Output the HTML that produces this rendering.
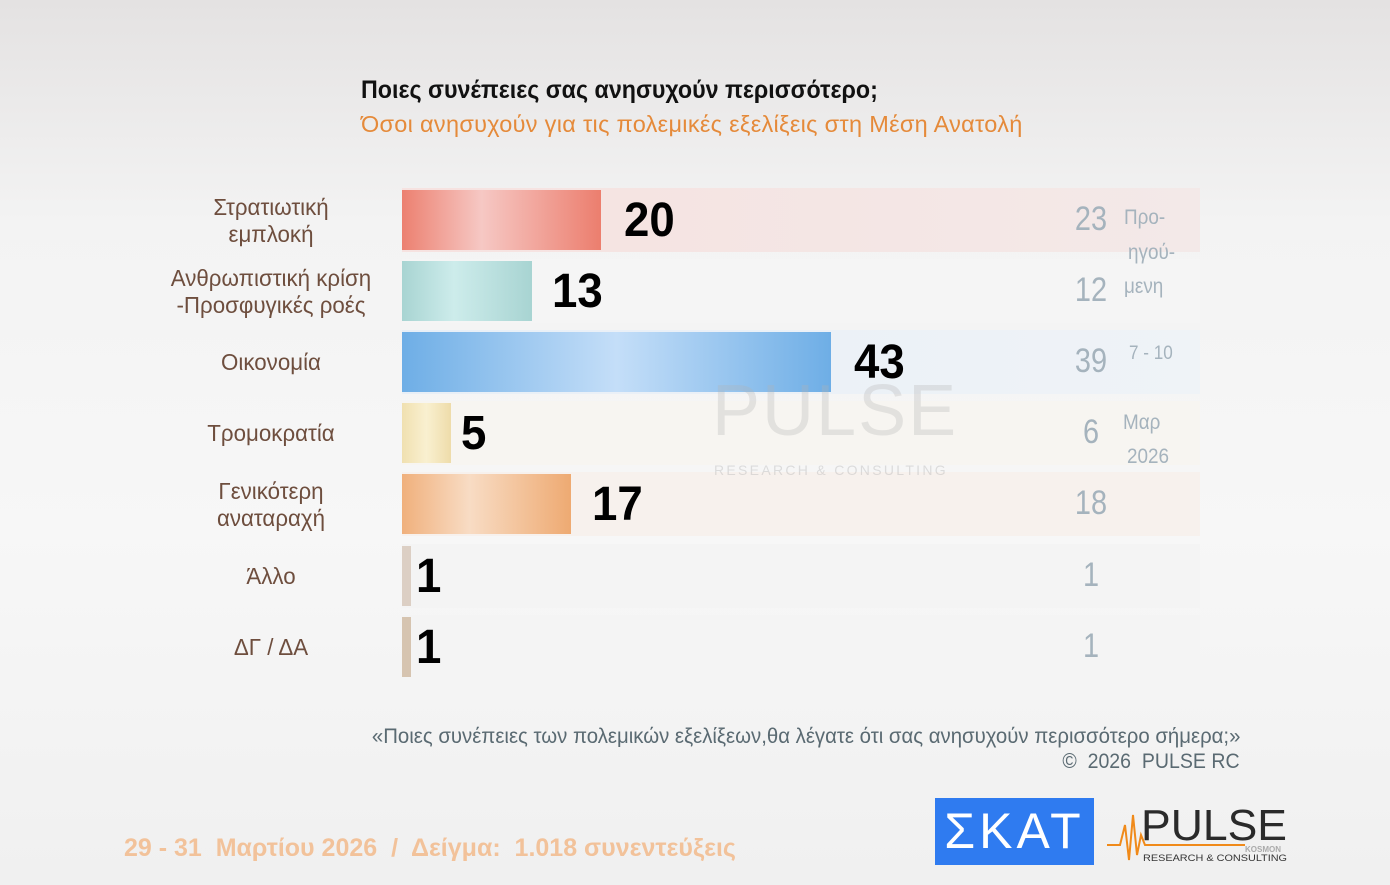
<!DOCTYPE html>
<html><head><meta charset="utf-8"><style>
*{margin:0;padding:0;box-sizing:border-box}
body{width:1390px;height:885px;overflow:hidden;position:relative;font-family:"Liberation Sans","DejaVu Sans",sans-serif;background:linear-gradient(180deg,#e4e2e2 0%,#f3f3f3 25%,#f7f7f7 60%,#f0f0f0 100%)}
.a{position:absolute;white-space:nowrap}
.lab{position:absolute;width:260px;left:141px;text-align:center;color:#6e4e3e;font-size:23px;line-height:27px;transform:scaleX(0.97)}
.rowbg{position:absolute;left:402px;width:798px;height:64px}
.bar{position:absolute;left:402px;height:60px}
.val{position:absolute;font-weight:bold;font-size:48px;color:#000;transform:scaleX(0.95);transform-origin:left}
.prev{position:absolute;left:1072px;width:38px;text-align:center;font-size:34px;color:#a5b3bd;transform:scaleX(0.85)}
.side{position:absolute;font-size:21px;color:#a5b3bd;transform:scaleX(0.9);transform-origin:left}
</style></head><body>
<div class="a" style="left:361px;top:76px;font-size:25px;font-weight:bold;color:#111;transform:scaleX(0.93);transform-origin:left">Ποιες συνέπειες σας ανησυχούν περισσότερο;</div>
<div class="a" style="left:361px;top:111px;font-size:23.5px;color:#e58a3a;letter-spacing:0.3px">Όσοι ανησυχούν για τις πολεμικές εξελίξεις στη Μέση Ανατολή</div>

<div class="rowbg" style="top:188px;background:linear-gradient(90deg,#f6e2e0,#f3e9e8)"></div>
<div class="rowbg" style="top:259px;background:#f5f5f5"></div>
<div class="rowbg" style="top:330px;background:linear-gradient(90deg,#e8eff7,#eff3f7)"></div>
<div class="rowbg" style="top:401px;background:#f7f5f1"></div>
<div class="rowbg" style="top:472px;background:#f7f1ed"></div>
<div class="rowbg" style="top:544px;background:#f4f4f4"></div>
<div class="rowbg" style="top:615px;background:#f4f4f4"></div>

<div class="bar" style="top:190px;width:199px;background:linear-gradient(90deg,#ec8070,#f6c8c4 40%,#ec7e6e)"></div>
<div class="bar" style="top:261px;width:130px;background:linear-gradient(90deg,#a8d4d2,#cdeceb 40%,#a8d4d2)"></div>
<div class="bar" style="top:332px;width:429px;background:linear-gradient(90deg,#6eaee6,#c4def8 50%,#6eaee6)"></div>
<div class="bar" style="top:403px;width:49px;background:linear-gradient(90deg,#f0e0b0,#f9f0d0 50%,#eedcaa)"></div>
<div class="bar" style="top:474px;width:169px;background:linear-gradient(90deg,#f0b07c,#f8dcc4 40%,#eeaa72)"></div>
<div class="bar" style="top:546px;width:9px;background:#dccfc4"></div>
<div class="bar" style="top:617px;width:9px;background:#d6c4b0"></div>

<div class="val" style="left:624px;top:193px">20</div>
<div class="val" style="left:552px;top:264px">13</div>
<div class="val" style="left:854px;top:335px">43</div>
<div class="val" style="left:461px;top:406px">5</div>
<div class="val" style="left:592px;top:477px">17</div>
<div class="val" style="left:416px;top:549px">1</div>
<div class="val" style="left:416px;top:620px">1</div>

<div class="lab" style="top:194px">Στρατιωτική<br>εμπλοκή</div>
<div class="lab" style="top:265px">Ανθρωπιστική κρίση<br>-Προσφυγικές ροές</div>
<div class="lab" style="top:349px">Οικονομία</div>
<div class="lab" style="top:420px">Τρομοκρατία</div>
<div class="lab" style="top:478px">Γενικότερη<br>αναταραχή</div>
<div class="lab" style="top:563px">Άλλο</div>
<div class="lab" style="top:634px">ΔΓ / ΔΑ</div>

<div class="prev" style="top:200px">23</div>
<div class="prev" style="top:271px">12</div>
<div class="prev" style="top:342px">39</div>
<div class="prev" style="top:413px">6</div>
<div class="prev" style="top:484px">18</div>
<div class="prev" style="top:556px">1</div>
<div class="prev" style="top:627px">1</div>

<div class="side" style="left:1124px;top:206px">Προ-</div>
<div class="side" style="left:1128px;top:241px">ηγού-</div>
<div class="side" style="left:1124px;top:275px">μενη</div>
<div class="side" style="left:1129px;top:343px;font-size:19px">7 - 10</div>
<div class="side" style="left:1123px;top:411px">Μαρ</div>
<div class="side" style="left:1127px;top:445px">2026</div>

<div class="a" style="left:712px;top:370px;font-size:72px;color:rgba(180,180,180,0.3);letter-spacing:2px">PULSE</div>
<div class="a" style="left:714px;top:462px;font-size:14px;color:rgba(180,180,180,0.4);letter-spacing:2.3px">RESEARCH &amp; CONSULTING</div>

<div class="a" style="right:150px;top:725px;font-size:21px;color:#5a6a72;transform:scaleX(0.97);transform-origin:right">«Ποιες συνέπειες των πολεμικών εξελίξεων,θα λέγατε ότι σας ανησυχούν περισσότερο σήμερα;»</div>
<div class="a" style="right:150px;top:750px;font-size:21px;color:#5a6a72;transform:scaleX(0.93);transform-origin:right">©&nbsp; 2026&nbsp; PULSE RC</div>

<div class="a" style="left:124px;top:834px;font-size:25px;font-weight:bold;color:#f2c29a">29 - 31&nbsp; Μαρτίου 2026&nbsp; /&nbsp; Δείγμα:&nbsp; 1.018 συνεντεύξεις</div>

<div class="a" style="left:935px;top:798px;width:159px;height:67px;background:#2f7bf0;color:#fff;font-size:50px;line-height:67px;text-align:center;letter-spacing:4px">ΣΚΑΤ</div>
<svg class="a" style="left:1105px;top:800px" width="190" height="70">
<polyline points="2,45 15,45 20,25 24,60 28,15 32,55 36,35 40,45 140,45" fill="none" stroke="#f08a1a" stroke-width="2"/>
<text x="36" y="40" font-family="Liberation Sans" font-size="44" fill="#2a2a2a" textLength="146" lengthAdjust="spacingAndGlyphs">PULSE</text>
<text x="140" y="52" font-family="Liberation Sans" font-size="8" font-weight="bold" fill="#aaa">KOSMON</text>
<text x="38" y="61" font-family="Liberation Sans" font-size="9.5" fill="#333" textLength="144" lengthAdjust="spacingAndGlyphs">RESEARCH &amp; CONSULTING</text>
</svg>
</body></html>
